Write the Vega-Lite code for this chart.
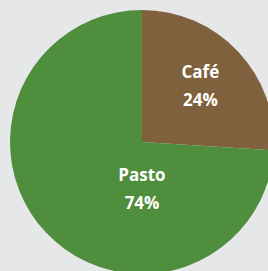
{
  "$schema": "https://vega.github.io/schema/vega-lite/v6.json",
  "autosize": "none",
  "width": 252,
  "height": 258,
  "padding": {"left": 16, "top": 13, "right": 0, "bottom": 0},
  "background": "#e6e7e9",
  "view": {"stroke": null},
  "data": {"values": [
    {"uso": "Café", "valor": 26, "texto": "Café\n24%"},
    {"uso": "Pasto", "valor": 74, "texto": "Pasto\n74%"}
  ]},
  "resolve": {"scale": {"theta": "independent"}},
  "layer": [
    {
      "mark": {"type": "arc", "radius": 132},
      "encoding": {
        "theta": {"field": "valor", "type": "quantitative", "stack": true},
        "color": {"field": "uso", "type": "nominal", "scale": {"domain": ["Café", "Pasto"], "range": ["#80613e", "#4f8e3d"]}, "legend": null}
      }
    },
    {
      "mark": {"type": "text", "radius": 80, "dy": -14, "color": "white", "font": "Open Sans", "fontWeight": "bold", "fontSize": 17, "lineBreak": "\n", "lineHeight": 28, "baseline": "middle", "align": "center"},
      "encoding": {
        "theta": {"field": "valor", "type": "quantitative", "stack": true},
        "detail": {"field": "uso", "type": "nominal"},
        "text": {"condition": {"test": "datum.uso === 'Pasto'", "value": ""}, "field": "texto", "type": "nominal"}
      }
    },
    {
      "transform": [{"filter": "datum.uso === 'Pasto'"}],
      "mark": {"type": "text", "radius": 48, "dy": -14, "color": "white", "font": "Open Sans", "fontWeight": "bold", "fontSize": 17, "lineBreak": "\n", "lineHeight": 28, "baseline": "middle", "align": "center"},
      "encoding": {
        "theta": {"field": "valor", "type": "quantitative", "stack": true},
        "text": {"field": "texto", "type": "nominal"}
      }
    }
  ]
}
